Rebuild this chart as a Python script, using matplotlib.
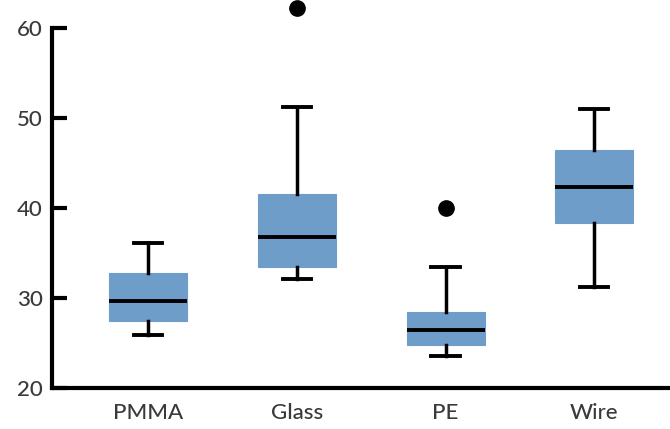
import matplotlib
matplotlib.use("Agg")
from matplotlib import pyplot as plt

categories = ['PMMA', 'Glass', 'PE', 'Wire']
whisker_low = [25.9, 32.1, 23.6, 31.2]
q1 = [27.5, 33.4, 24.8, 38.3]
median = [29.7, 36.8, 26.4, 42.3]
q3 = [32.8, 41.6, 28.5, 46.5]
whisker_high = [36.1, 51.2, 33.4, 51.0]
outliers = [[], [62.2], [40.0], []]

box_color = '#6f9dc9'
text_color = '#3a3a3a'

stats = []
for i in range(len(categories)):
    stats.append({
        'label': categories[i],
        'whislo': whisker_low[i],
        'q1': q1[i],
        'med': median[i],
        'q3': q3[i],
        'whishi': whisker_high[i],
        'fliers': outliers[i],
    })

plt.rcParams['font.family'] = ['Lato', 'DejaVu Sans']

fig = plt.figure(figsize=(6.7, 4.29), dpi=100)
ax = fig.add_axes([0.078, 0.0956, 0.922, 0.839])

parts = ax.bxp(stats, positions=[1, 2, 3, 4], widths=0.525, capwidths=0.19,
               patch_artist=True,
               boxprops=dict(facecolor=box_color, edgecolor=box_color, linewidth=0.8),
               medianprops=dict(color='black', linewidth=2.8),
               whiskerprops=dict(color='black', linewidth=2.5),
               capprops=dict(color='black', linewidth=2.8),
               flierprops=dict(marker='o', markerfacecolor='black',
                               markeredgecolor='black', markersize=11))
for f in parts['fliers']:
    f.set_clip_on(False)

ax.set_xlim(0.354, 4.51)
ax.set_ylim(20, 60)
ax.set_yticks([20, 30, 40, 50, 60])

for s in ['top', 'right']:
    ax.spines[s].set_visible(False)
for s in ['left', 'bottom']:
    ax.spines[s].set_linewidth(3)
    ax.spines[s].set_color('black')

ax.tick_params(axis='y', direction='in', length=11, width=3, pad=7,
               labelsize=16, labelcolor=text_color)
ax.tick_params(axis='x', length=0, pad=11, labelsize=16, labelcolor=text_color)
for lab in ax.get_xticklabels() + ax.get_yticklabels():
    lab.set_fontweight('medium')

fig.savefig('out.png', dpi=100)
